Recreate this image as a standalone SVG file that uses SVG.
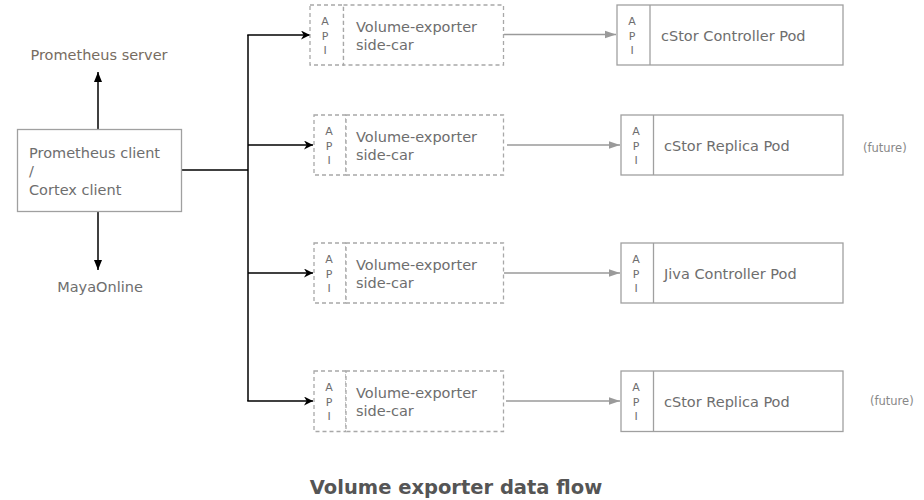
<svg xmlns="http://www.w3.org/2000/svg" width="924" height="500" viewBox="0 0 924 500">
<defs>
<marker id="blk" viewBox="0 0 10 10" refX="10" refY="5" markerWidth="9" markerHeight="9" markerUnits="userSpaceOnUse" orient="auto"><path d="M0,0 L10,5 L0,10 L3,5 Z" fill="#000"/></marker>
<marker id="blk2" viewBox="0 0 10 10" refX="10" refY="5" markerWidth="10" markerHeight="10" markerUnits="userSpaceOnUse" orient="auto"><path d="M0,1 L10,5 L0,9 Z" fill="#000"/></marker>
<marker id="gry" viewBox="0 0 10 10" refX="10" refY="5" markerWidth="11" markerHeight="11" markerUnits="userSpaceOnUse" orient="auto"><path d="M0,1.5 L10,5 L0,8.5 Z" fill="#9a9a9a"/></marker>
</defs>
<style>
text{font-family:"DejaVu Sans","Liberation Sans",sans-serif;fill:#6e6e6e}
.lbl{font-size:14.5px}
.api{font-size:11px;text-anchor:middle}
.fut{font-size:11.5px;fill:#888}
.box{fill:#fff;stroke:#a0a0a0;stroke-width:1.3}
.dash{fill:#fff;stroke:#a8a8a8;stroke-width:1.3;stroke-dasharray:4 3}
.bk{fill:none;stroke:#000;stroke-width:1.5}
.gr{fill:none;stroke:#9a9a9a;stroke-width:1.5}
</style>

<g id="connectors">
<line class="bk" x1="98" y1="129" x2="98" y2="72" marker-end="url(#blk2)"/>
<line class="bk" x1="98" y1="211" x2="98" y2="270" marker-end="url(#blk2)"/>
<polyline class="bk" points="181,170 248,170"/>
<line class="bk" x1="248" y1="35" x2="248" y2="401"/>
<line class="bk" x1="247.25" y1="35" x2="310" y2="35" marker-end="url(#blk)"/>
<line class="bk" x1="248" y1="145" x2="313" y2="145" marker-end="url(#blk)"/>
<line class="bk" x1="248" y1="273" x2="313" y2="273" marker-end="url(#blk)"/>
<line class="bk" x1="247.25" y1="401" x2="313" y2="401" marker-end="url(#blk)"/>
<line class="gr" x1="504" y1="34.5" x2="616" y2="34.5" marker-end="url(#gry)"/>
<line class="gr" x1="507" y1="145" x2="620" y2="145" marker-end="url(#gry)"/>
<line class="gr" x1="504" y1="273" x2="620" y2="273" marker-end="url(#gry)"/>
<line class="gr" x1="506" y1="401" x2="620" y2="401" marker-end="url(#gry)"/>
</g>

<g id="prom-server"><text class="lbl" x="99" y="60" text-anchor="middle" style="fill:#776c5f">Prometheus server</text></g>
<g id="maya"><text class="lbl" x="100" y="292" text-anchor="middle">MayaOnline</text></g>
<g id="client">
<rect class="box" x="17.5" y="129.5" width="164" height="82"/>
<text class="lbl" x="29" y="158">Prometheus client</text>
<text class="lbl" x="29" y="176">/</text>
<text class="lbl" x="29" y="195">Cortex client</text>
</g>

<g id="sidecar1">
<rect class="dash" x="310" y="5" width="33.5" height="60"/>
<rect class="dash" x="343.5" y="5" width="160" height="60"/>
<text class="api" x="325" y="25">A</text><text class="api" x="325" y="39.5">P</text><text class="api" x="325" y="54">I</text>
<text class="lbl" x="356" y="32">Volume-exporter</text>
<text class="lbl" x="356" y="50">side-car</text>
</g>
<g id="sidecar2">
<rect class="dash" x="314" y="115" width="32" height="60"/>
<rect class="dash" x="346" y="115" width="157.5" height="60"/>
<text class="api" x="329" y="135">A</text><text class="api" x="329" y="149.5">P</text><text class="api" x="329" y="164">I</text>
<text class="lbl" x="356" y="142">Volume-exporter</text>
<text class="lbl" x="356" y="160">side-car</text>
</g>
<g id="sidecar3">
<rect class="dash" x="314" y="243" width="32" height="60"/>
<rect class="dash" x="346" y="243" width="157.5" height="60"/>
<text class="api" x="329" y="263">A</text><text class="api" x="329" y="277.5">P</text><text class="api" x="329" y="292">I</text>
<text class="lbl" x="356" y="270">Volume-exporter</text>
<text class="lbl" x="356" y="288">side-car</text>
</g>
<g id="sidecar4">
<rect class="dash" x="314" y="371" width="32" height="60.5"/>
<rect class="dash" x="346" y="371" width="157.5" height="60.5"/>
<text class="api" x="329" y="391">A</text><text class="api" x="329" y="405.5">P</text><text class="api" x="329" y="420">I</text>
<text class="lbl" x="356" y="398">Volume-exporter</text>
<text class="lbl" x="356" y="416">side-car</text>
</g>

<g id="pod1">
<rect class="box" x="617" y="5" width="226" height="60"/>
<line class="box" x1="650" y1="5" x2="650" y2="65"/>
<text class="api" x="632" y="25">A</text><text class="api" x="632" y="39.5">P</text><text class="api" x="632" y="54">I</text>
<text class="lbl" x="661" y="41">cStor Controller Pod</text>
</g>
<g id="pod2">
<rect class="box" x="621" y="115" width="222" height="60"/>
<line class="box" x1="653.5" y1="115" x2="653.5" y2="175"/>
<text class="api" x="636" y="135">A</text><text class="api" x="636" y="149.5">P</text><text class="api" x="636" y="164">I</text>
<text class="lbl" x="664" y="151">cStor Replica Pod</text>
<text class="fut" x="863" y="152">(future)</text>
</g>
<g id="pod3">
<rect class="box" x="621" y="243" width="222" height="60"/>
<line class="box" x1="653.5" y1="243" x2="653.5" y2="303"/>
<text class="api" x="636" y="263">A</text><text class="api" x="636" y="277.5">P</text><text class="api" x="636" y="292">I</text>
<text class="lbl" x="664" y="279">Jiva Controller Pod</text>
</g>
<g id="pod4">
<rect class="box" x="621" y="371" width="222" height="60.5"/>
<line class="box" x1="653.5" y1="371" x2="653.5" y2="431.5"/>
<text class="api" x="636" y="391">A</text><text class="api" x="636" y="405.5">P</text><text class="api" x="636" y="420">I</text>
<text class="lbl" x="664" y="407">cStor Replica Pod</text>
<text class="fut" x="870" y="405">(future)</text>
</g>

<g id="title"><text x="456" y="494" text-anchor="middle" style="font-size:19.5px;font-weight:bold;fill:#555">Volume exporter data flow</text></g>
</svg>
